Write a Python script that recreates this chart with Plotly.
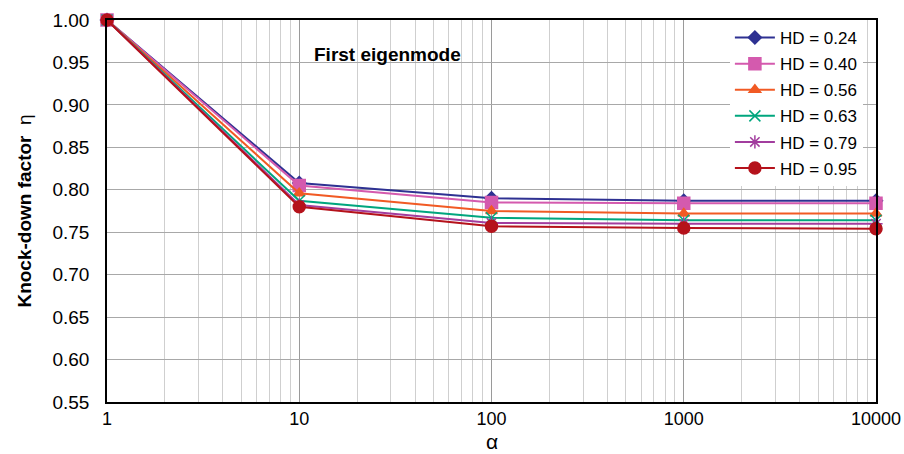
import plotly.graph_objects as go

alpha = [1, 10, 100, 1000, 10000]
names = ["HD = 0.24", "HD = 0.40", "HD = 0.56", "HD = 0.63", "HD = 0.79", "HD = 0.95"]
hd_024 = [1.000, 0.808, 0.790, 0.787, 0.787]
hd_040 = [1.000, 0.805, 0.785, 0.784, 0.784]
hd_056 = [1.000, 0.796, 0.775, 0.772, 0.772]
hd_063 = [1.000, 0.787, 0.767, 0.764, 0.764]
hd_079 = [1.000, 0.782, 0.761, 0.760, 0.760]
hd_095 = [1.000, 0.780, 0.757, 0.755, 0.754]
series = [hd_024, hd_040, hd_056, hd_063, hd_079, hd_095]

colors = ["#2E3192", "#D45AAE", "#F15A24", "#00A67E", "#A23D9E", "#B5121B"]
symbols = ["diamond", "square", "triangle-up", "x-thin-open", "asterisk-open", "circle"]
sizes = [10, 12, 10, 11, 11, 12]

fig = go.Figure()
for i, (nm, ys) in enumerate(zip(names, series)):
    fig.add_trace(go.Scatter(
        x=alpha, y=ys, name=nm, mode="lines+markers", legendgroup=nm,
        cliponaxis=False,
        line=dict(color=colors[i], width=2),
        marker=dict(symbol=symbols[i], size=sizes[i], color=colors[i],
                    line=dict(color=colors[i], width=1.5)),
    ))

fig.update_layout(
    width=904, height=454,
    margin=dict(l=107, r=28, t=20, b=52),
    paper_bgcolor="white", plot_bgcolor="white",
    font=dict(family="Liberation Sans, Arial", size=19, color="black"),
    showlegend=True,
    legend=dict(x=0.81, y=1.0, xanchor="left", yanchor="top",
                bgcolor="white", borderwidth=0, font=dict(size=17),
                tracegroupgap=1, itemwidth=40),
    annotations=[
        dict(text="<b>First eigenmode</b>", xref="paper", yref="paper",
             x=0.365, y=0.942, showarrow=False, font=dict(size=19)),
        dict(text="α", xref="paper", yref="paper", x=0.5, y=-0.137,
             xanchor="center", yanchor="bottom", showarrow=False,
             font=dict(size=21), borderpad=0),
    ],
)
fig.update_xaxes(
    type="log", range=[0, 4], tickvals=alpha,
    ticktext=["1", "10", "100", "1000", "10000"],
    showgrid=True, gridcolor="#9A9A9A", gridwidth=1.2,
    minor=dict(showgrid=True, gridcolor="#CFCFCF", gridwidth=1, dtick="D1"),
    showline=True, linecolor="black", linewidth=1.5, mirror=True,
    ticks="", zeroline=False, ticklabelstandoff=0, automargin=False,
    tickfont=dict(size=18),
)
fig.update_yaxes(
    range=[0.55, 1.0], dtick=0.05, tickformat=".2f",
    showgrid=True, gridcolor="#A8A8A8", gridwidth=1,
    showline=True, linecolor="black", linewidth=1.5, mirror=True,
    ticks="", zeroline=False, ticklabelstandoff=12, automargin=False,
    title=dict(text="<b>Knock-down factor</b>  η", font=dict(size=19), standoff=16),
)
fig.write_html("out.html")
